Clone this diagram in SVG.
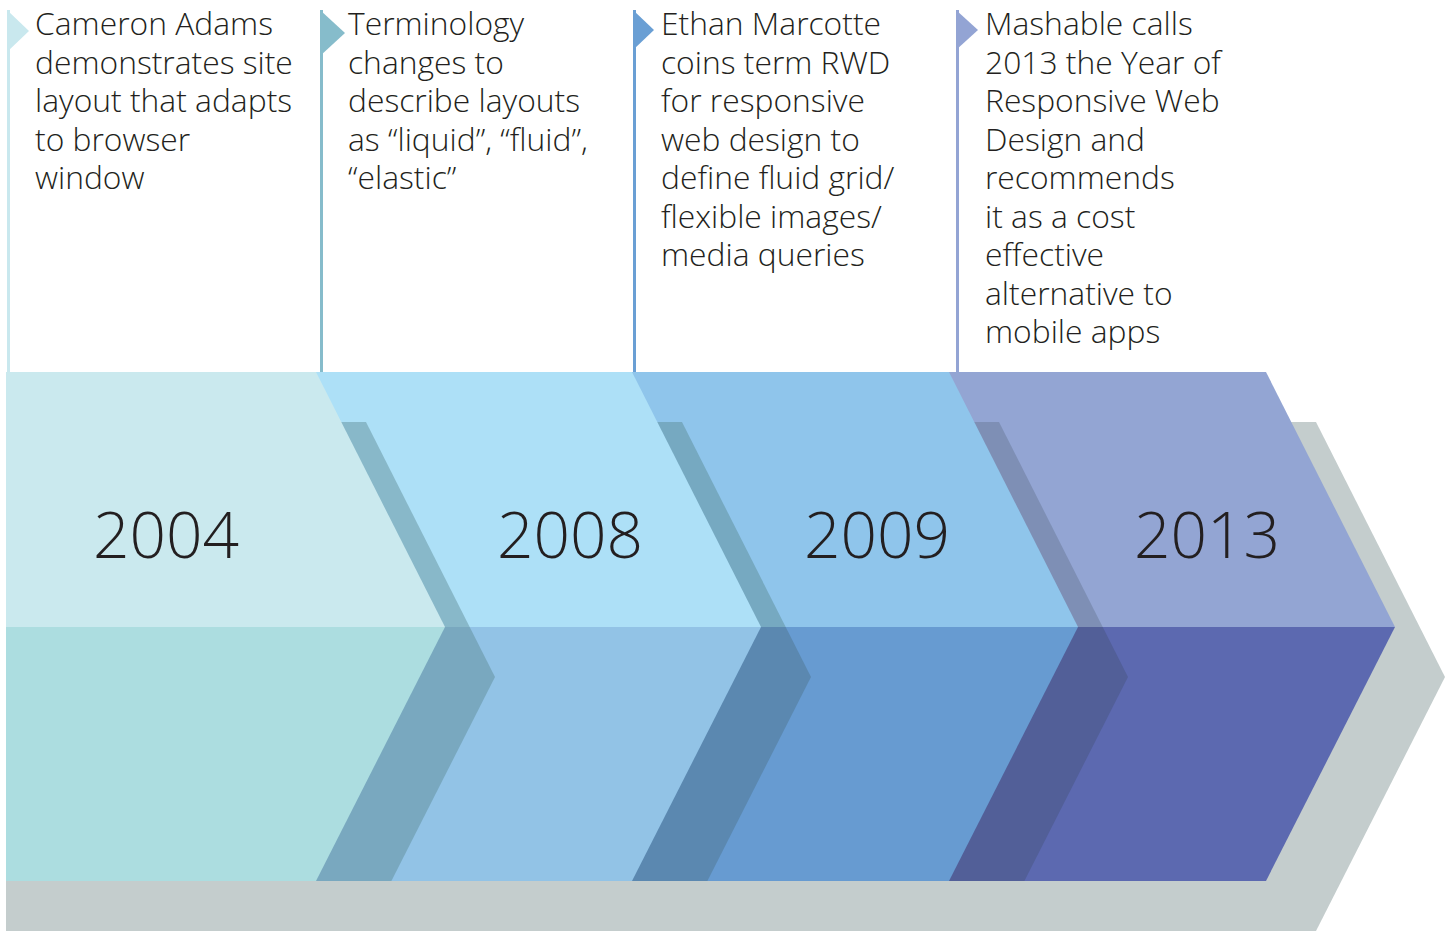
<svg xmlns="http://www.w3.org/2000/svg" width="1452" height="931" viewBox="0 0 1452 931">
<style>
.desc{font-family:"Open Sans","Liberation Sans",sans-serif;font-weight:300;font-size:31.8px;fill:#231f20}
.year{font-family:"Open Sans","Liberation Sans",sans-serif;font-weight:300;font-size:64px;fill:#231f20;text-anchor:middle}
</style>
<rect width="1452" height="931" fill="#ffffff"/>
<g id="shadow">
<polygon points="6,422 1316,422 1445,677 1316,931 6,931" fill="#c4cdcd"/>
</g>
<g id="seg-2013">
<polygon points="6,372 1266,372 1395,627 6,627" fill="#93a5d3"/>
<polygon points="6,627 1395,627 1266,881 6,881" fill="#5c69b0"/>
<text class="year" x="1207" y="558">2013</text>
</g>
<g id="shadow-2009">
<polygon points="6,422 999,422 1102.7,627 6,627" fill="#7e8fb5"/>
<polygon points="6,627 1102.7,627 1128,677 1024.4,881 6,881" fill="#525f98"/>
</g>
<g id="seg-2009">
<polygon points="6,372 949,372 1078,627 6,627" fill="#8fc5eb"/>
<polygon points="6,627 1078,627 949,881 6,881" fill="#679bd1"/>
<text class="year" x="877" y="558">2009</text>
</g>
<g id="shadow-2008">
<polygon points="6,422 682,422 785.7,627 6,627" fill="#76a9c1"/>
<polygon points="6,627 785.7,627 811,677 707.4,881 6,881" fill="#5b88b0"/>
</g>
<g id="seg-2008">
<polygon points="6,372 632,372 761,627 6,627" fill="#ade0f7"/>
<polygon points="6,627 761,627 632,881 6,881" fill="#92c3e6"/>
<text class="year" x="570" y="558">2008</text>
</g>
<g id="shadow-2004">
<polygon points="6,422 366,422 469.7,627 6,627" fill="#88b8c9"/>
<polygon points="6,627 469.7,627 495,677 391.4,881 6,881" fill="#79a8bf"/>
</g>
<g id="seg-2004">
<polygon points="6,372 316,372 445,627 6,627" fill="#cae9ee"/>
<polygon points="6,627 445,627 316,881 6,881" fill="#acdde0"/>
<text class="year" x="166" y="558">2004</text>
</g>
<g id="connectors">
<rect x="7" y="10" width="3" height="362" fill="#c9e8ee"/>
<rect x="320" y="10" width="3" height="362" fill="#86bccb"/>
<rect x="633" y="10" width="3" height="362" fill="#6a9fd4"/>
<rect x="956" y="10" width="3" height="362" fill="#93a4d4"/>
</g>
<g id="event-2004">
<polygon points="7,10 29,31 7,52" fill="#c9e8ee"/>
<text class="desc" x="35"><tspan x="35" y="35">Cameron Adams</tspan><tspan x="35" y="73.5">demonstrates site</tspan><tspan x="35" y="112">layout that adapts</tspan><tspan x="35" y="150.5">to browser</tspan><tspan x="35" y="189">window</tspan></text>
</g>
<g id="event-2008">
<polygon points="320,10 345,33 320,56" fill="#86bccb"/>
<text class="desc" x="348"><tspan x="348" y="35">Terminology</tspan><tspan x="348" y="73.5">changes to</tspan><tspan x="348" y="112">describe layouts</tspan><tspan x="348" y="150.5">as “liquid”, “fluid”,</tspan><tspan x="348" y="189">“elastic”</tspan></text>
</g>
<g id="event-2009">
<polygon points="633,10 654,30 633,50" fill="#6a9fd4"/>
<text class="desc" x="661"><tspan x="661" y="35">Ethan Marcotte</tspan><tspan x="661" y="73.5">coins term RWD</tspan><tspan x="661" y="112">for responsive</tspan><tspan x="661" y="150.5">web design to</tspan><tspan x="661" y="189">define fluid grid/</tspan><tspan x="661" y="227.5">flexible images/</tspan><tspan x="661" y="266">media queries</tspan></text>
</g>
<g id="event-2013">
<polygon points="956,10 978,30 956,50" fill="#93a4d4"/>
<text class="desc" x="985"><tspan x="985" y="35">Mashable calls</tspan><tspan x="985" y="73.5">2013 the Year of</tspan><tspan x="985" y="112">Responsive Web</tspan><tspan x="985" y="150.5">Design and</tspan><tspan x="985" y="189">recommends</tspan><tspan x="985" y="227.5">it as a cost</tspan><tspan x="985" y="266">effective</tspan><tspan x="985" y="304.5">alternative to</tspan><tspan x="985" y="343">mobile apps</tspan></text>
</g>
</svg>
